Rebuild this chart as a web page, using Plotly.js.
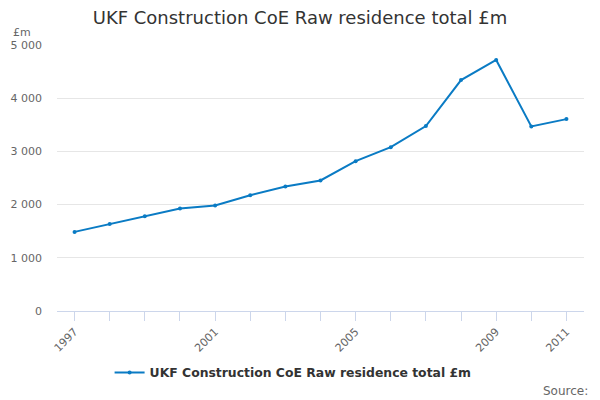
<!DOCTYPE html>
<html>
<head>
<meta charset="utf-8">
<script src="https://cdn.plot.ly/plotly-3.0.1.min.js"></script>
<style>
  html, body { margin: 0; padding: 0; background: #fff; }
  #chart { width: 600px; height: 400px; }
</style>
</head>
<body>
<div id="chart"></div>
<script>
var years = [1997, 1998, 1999, 2000, 2001, 2002, 2003, 2004, 2005, 2006, 2007, 2008, 2009, 2010, 2011];
var residenceTotal = [1487, 1637, 1782, 1926, 1982, 2177, 2340, 2453, 2817, 3080, 3476, 4341, 4718, 3469, 3607];
var labelledYears = [1997, 2001, 2005, 2009, 2011];
var yTicks = [0, 1000, 2000, 3000, 4000, 5000];

var tickText = years.map(function (y) {
    return labelledYears.indexOf(y) >= 0 ? String(y) : "";
});

var font = "DejaVu Sans, sans-serif";

var trace = {
    x: years,
    y: residenceTotal,
    type: "scatter",
    mode: "lines+markers",
    name: "UKF Construction CoE Raw residence total £m",
    line: { color: "#0a7bc4", width: 2 },
    marker: { color: "#0a7bc4", size: 4 }
};

var layout = {
    width: 600,
    height: 400,
    margin: { l: 57, r: 16, t: 45, b: 89 },
    paper_bgcolor: "#fff",
    plot_bgcolor: "#fff",
    separators: ". ",
    font: { family: font, color: "#666", size: 11 },
    title: {
        text: "UKF Construction CoE Raw residence total £m",
        font: { family: font, size: 18, color: "#333" },
        x: 0.5, xanchor: "center",
        y: 0.955, yanchor: "middle"
    },
    xaxis: {
        range: [1996.5, 2011.5],
        tickmode: "array",
        tickvals: years,
        ticktext: tickText,
        tickangle: -45,
        ticks: "outside",
        ticklen: 9,
        tickcolor: "#ccd6eb",
        showline: true,
        linecolor: "#ccd6eb",
        linewidth: 1,
        showgrid: false,
        zeroline: false,
        fixedrange: true,
        tickfont: { family: font, size: 11, color: "#666" }
    },
    yaxis: {
        range: [0, 5000],
        tickmode: "array",
        tickvals: yTicks,
        tickformat: ",d",
        showgrid: true,
        gridcolor: "#e6e6e6",
        zeroline: false,
        showline: false,
        ticks: "",
        ticklabelstandoff: 14,
        fixedrange: true,
        tickfont: { family: font, size: 11, color: "#666" }
    },
    showlegend: true,
    legend: {
        orientation: "h",
        x: 0.448, xanchor: "center",
        y: -0.233, yanchor: "middle",
        itemwidth: 30,
        font: { family: font, size: 12.4, color: "#333", weight: "bold" }
    },
    annotations: [
        {
            text: "£m",
            xref: "paper", yref: "paper",
            x: -0.087, y: 1.015,
            xanchor: "left", yanchor: "bottom",
            showarrow: false,
            font: { family: font, size: 11, color: "#666" }
        },
        {
            text: "Source:",
            xref: "paper", yref: "paper",
            x: 1.012, y: -0.3,
            xanchor: "right", yanchor: "middle",
            showarrow: false,
            font: { family: font, size: 12, color: "#666" }
        }
    ]
};

Plotly.newPlot("chart", [trace], layout, { displayModeBar: false, staticPlot: true });
</script>
</body>
</html>
